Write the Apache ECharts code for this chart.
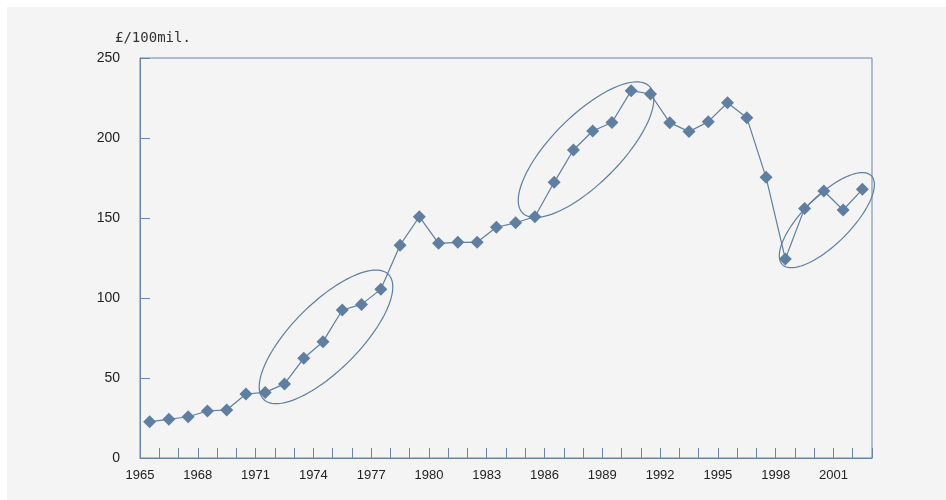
<!DOCTYPE html>
<html>
<head>
<meta charset="utf-8">
<script src="https://cdn.jsdelivr.net/npm/echarts@6/dist/echarts.min.js"></script>
<style>
  html, body { margin: 0; padding: 0; background: #ffffff; }
  #chart { position: absolute; left: 7px; top: 7px; width: 939px; height: 493px; }
</style>
</head>
<body>
<div id="chart"></div>
<script>
// Annual amounts, £/100mil.
const years = ['1965','1966','1967','1968','1969','1970','1971','1972','1973','1974',
  '1975','1976','1977','1978','1979','1980','1981','1982','1983','1984',
  '1985','1986','1987','1988','1989','1990','1991','1992','1993','1994',
  '1995','1996','1997','1998','1999','2000','2001','2002'];

const values = [22.7, 24.2, 25.8, 29.4, 30, 40, 41, 46.3, 62.3, 72.7,
  92.5, 96, 105.4, 133, 150.8, 134.2, 134.8, 134.8, 144.2, 147,
  150.8, 172.3, 192.5, 204.4, 209.7, 229.6, 227.5, 209.6, 204, 210.2,
  222, 212.7, 175.4, 124.4, 156, 166.9, 155, 167.9];

// Year labels sit on the boundaries between yearly slots
const tickYears = ['1965','1966','1967','1968','1969','1970','1971','1972','1973','1974',
  '1975','1976','1977','1978','1979','1980','1981','1982','1983','1984',
  '1985','1986','1987','1988','1989','1990','1991','1992','1993','1994',
  '1995','1996','1997','1998','1999','2000','2001','2002','2003'];

const yTicks = [0, 50, 100, 150, 200, 250];

// Periods of rapid growth, circled on the chart
const growthSpans = [['1971', '1977'], ['1985', '1990'], ['1998', '2002']];

const AXIS = '#6786aa';
const MARK = '#5e7ea2';

const spanData = growthSpans.map(function (s) {
  const a = years.indexOf(s[0]);
  const b = years.indexOf(s[1]);
  return [a, values[a], b, values[b]];
});

// Loose hand-style ellipse around a run of points, tilted up-right
function renderEllipse(params, api) {
  const p1 = api.coord([api.value(0), api.value(1)]);
  const p2 = api.coord([api.value(2), api.value(3)]);
  const cx = (p1[0] + p2[0]) / 2 + 3;
  const cy = (p1[1] + p2[1]) / 2 - 4;
  const ux = Math.SQRT1_2, uy = -Math.SQRT1_2;
  const vx = -uy, vy = ux;
  const proj = (p2[0] - p1[0]) * ux + (p2[1] - p1[1]) * uy;
  const a = proj / 2 + 11;
  const b = a * 0.38;
  const pts = [];
  for (let i = 0; i < 120; i++) {
    const t = (i / 120) * Math.PI * 2;
    const c = Math.cos(t) * a, s = Math.sin(t) * b;
    pts.push([cx + ux * c + vx * s, cy + uy * c + vy * s]);
  }
  return {
    type: 'polygon',
    shape: { points: pts },
    style: { fill: 'none', stroke: MARK, lineWidth: 1.2 }
  };
}

const chart = echarts.init(document.getElementById('chart'));
chart.setOption({
  animation: false,
  backgroundColor: '#f4f4f4',
  title: {
    text: '£/100mil.',
    left: 103,
    top: 19,
    textStyle: { fontFamily: 'DejaVu Sans Mono', fontSize: 14, fontWeight: 'normal', color: '#333333' }
  },
  grid: {
    left: 133, top: 51, right: 74, bottom: 42,
    show: true, borderColor: AXIS, borderWidth: 1, backgroundColor: 'transparent'
  },
  xAxis: [
    {
      type: 'category',
      data: years,
      boundaryGap: true,
      axisLine: { show: true, lineStyle: { color: AXIS, width: 1 } },
      axisTick: { show: false },
      axisLabel: { show: false },
      splitLine: { show: false }
    },
    {
      type: 'category',
      data: tickYears,
      boundaryGap: false,
      position: 'bottom',
      axisLine: { show: false },
      axisTick: { show: true, inside: true, length: 10, interval: 0, lineStyle: { color: AXIS, width: 1 } },
      axisLabel: {
        interval: 2, margin: 11,
        fontFamily: 'Liberation Sans', fontSize: 13, color: '#222222'
      },
      splitLine: { show: false }
    }
  ],
  yAxis: {
    type: 'value',
    min: yTicks[0],
    max: yTicks[yTicks.length - 1],
    interval: 50,
    axisLine: { show: true, lineStyle: { color: AXIS, width: 1 } },
    axisTick: { show: true, inside: true, length: 10, lineStyle: { color: AXIS, width: 1 } },
    axisLabel: { margin: 20, fontFamily: 'Liberation Sans', fontSize: 14, color: '#222222' },
    splitLine: { show: false }
  },
  series: [
    {
      type: 'line',
      xAxisIndex: 0,
      data: values,
      showSymbol: true,
      showAllSymbol: true,
      symbol: 'diamond',
      symbolSize: 13,
      itemStyle: { color: MARK, opacity: 1 },
      lineStyle: { color: MARK, width: 1.2 },
      z: 3
    },
    {
      type: 'custom',
      xAxisIndex: 0,
      data: spanData,
      encode: { x: [0, 2], y: [1, 3] },
      renderItem: renderEllipse,
      silent: true,
      z: 4
    }
  ]
});
</script>
</body>
</html>
